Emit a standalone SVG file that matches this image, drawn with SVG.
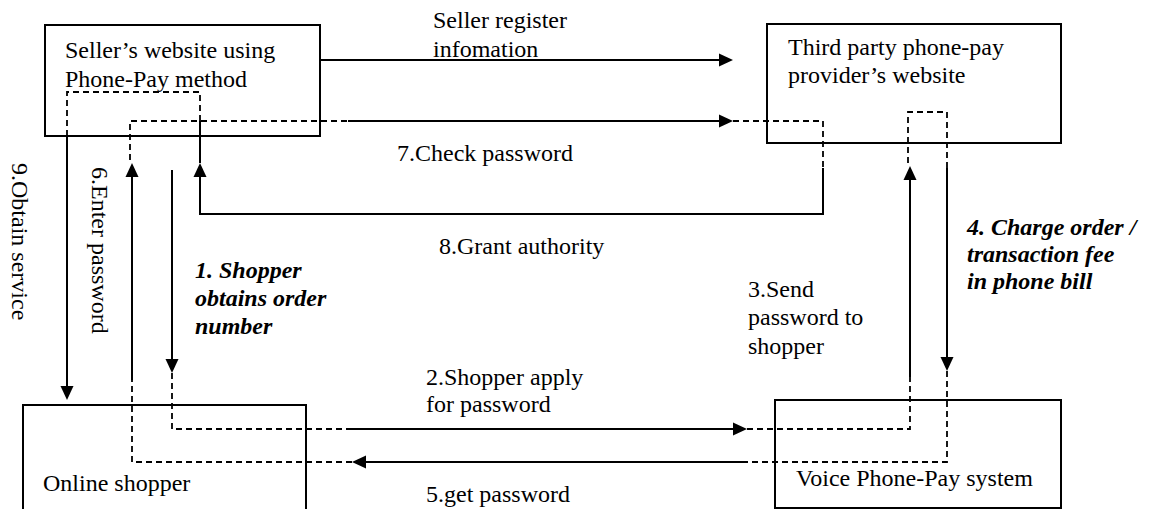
<svg xmlns="http://www.w3.org/2000/svg" xmlns:xlink="http://www.w3.org/1999/xlink" width="1152" height="509" viewBox="0 0 1152 509">
  <style>
    .box { fill: #ffffff; stroke: #000000; stroke-width: 2; }
    .txt { font-family: "Liberation Serif", "Times New Roman", serif; font-size: 24px; fill: #000000; }
    .bi { font-weight: bold; font-style: italic; }
    .solid { fill: none; stroke: #000000; stroke-width: 2; }
    .dash { fill: none; stroke: #000000; stroke-width: 1.8; stroke-dasharray: 6 4; }
  </style>
  <defs>
    <!-- filled arrowhead, tip at origin, pointing along +x -->
    <path id="ah" d="M0,0 L-14,-6.5 L-14,6.5 Z" fill="#000000"/>
  </defs>
  <rect width="1152" height="509" fill="#ffffff"/>

  <!-- nodes -->
  <g id="seller">
    <rect class="box" x="45" y="25" width="275" height="111"/>
    <text class="txt" x="65" y="58">Seller’s website using</text>
    <text class="txt" x="65" y="87">Phone-Pay method</text>
  </g>
  <g id="provider">
    <rect class="box" x="767" y="24" width="294" height="119"/>
    <text class="txt" x="788" y="55">Third party phone-pay</text>
    <text class="txt" x="788" y="83">provider’s website</text>
  </g>
  <g id="shopper">
    <rect class="box" x="23" y="405" width="283" height="110"/>
    <text class="txt" x="43" y="491">Online shopper</text>
  </g>
  <g id="voice">
    <rect class="box" x="775" y="400" width="286" height="108"/>
    <text class="txt" x="796" y="486">Voice Phone-Pay system</text>
  </g>

  <!-- connectors -->
  <g id="connectors">
    <!-- seller registers with provider -->
    <line class="solid" x1="320" y1="60" x2="722" y2="60"/>
    <use xlink:href="#ah" transform="translate(733,60)"/>

    <!-- 1. shopper obtains order number -->
    <line class="solid" x1="172" y1="170" x2="172" y2="362"/>
    <use xlink:href="#ah" transform="translate(172,373) rotate(90)"/>
    <polyline class="dash" points="172,373 172,429 350,429"/>

    <!-- 2. shopper applies for password -->
    <line class="solid" x1="350" y1="429" x2="736" y2="429"/>
    <use xlink:href="#ah" transform="translate(747,429)"/>
    <polyline class="dash" points="747,429 910,429 910,377"/>

    <!-- 3. send password to shopper -->
    <line class="solid" x1="910" y1="377" x2="910" y2="177"/>
    <use xlink:href="#ah" transform="translate(910,166) rotate(-90)"/>
    <polyline class="dash" points="908,163 908,112 947,112 947,168"/>

    <!-- 4. charge in phone bill -->
    <line class="solid" x1="947" y1="168" x2="947" y2="360"/>
    <use xlink:href="#ah" transform="translate(947,371) rotate(90)"/>
    <polyline class="dash" points="947,371 947,462 747,462"/>

    <!-- 5. get password -->
    <line class="solid" x1="747" y1="462" x2="363" y2="462"/>
    <use xlink:href="#ah" transform="translate(352,462) rotate(180)"/>
    <polyline class="dash" points="352,462 132,462 132,380"/>

    <!-- 6. enter password -->
    <line class="solid" x1="132" y1="380" x2="132" y2="174"/>
    <use xlink:href="#ah" transform="translate(132,163) rotate(-90)"/>
    <polyline class="dash" points="130,160 130,121 348,121"/>

    <!-- 7. check password -->
    <line class="solid" x1="348" y1="121" x2="722" y2="121"/>
    <use xlink:href="#ah" transform="translate(733,121)"/>
    <polyline class="dash" points="733,121 823,121 823,168"/>

    <!-- 8. grant authority -->
    <polyline class="solid" points="823,168 823,214 200,214 200,174"/>
    <use xlink:href="#ah" transform="translate(200,163) rotate(-90)"/>
    <line class="solid" x1="200" y1="163" x2="200" y2="121"/>
    <polyline class="dash" points="200,121 200,92 67,92 67,136"/>

    <!-- 9. obtain service -->
    <line class="solid" x1="67" y1="136" x2="67" y2="389"/>
    <use xlink:href="#ah" transform="translate(67,400) rotate(90)"/>
  </g>

  <!-- connector labels -->
  <g id="labels">
    <text class="txt" x="433" y="28">Seller register</text>
    <text class="txt" x="433" y="57">infomation</text>
    <text class="txt" x="397" y="161">7.Check password</text>
    <text class="txt" x="439" y="254">8.Grant authority</text>
    <text class="txt" x="748" y="297">3.Send</text>
    <text class="txt" x="748" y="325">password to</text>
    <text class="txt" x="748" y="354">shopper</text>
    <text class="txt bi" x="967" y="235">4. Charge order /</text>
    <text class="txt bi" x="967" y="262">transaction fee</text>
    <text class="txt bi" x="967" y="289">in phone bill</text>
    <text class="txt bi" x="195" y="278">1. Shopper</text>
    <text class="txt bi" x="195" y="306">obtains order</text>
    <text class="txt bi" x="195" y="334">number</text>
    <text class="txt" x="426" y="385">2.Shopper apply</text>
    <text class="txt" x="426" y="412">for password</text>
    <text class="txt" x="426" y="502">5.get password</text>
    <text class="txt" transform="translate(12,163) rotate(90)">9.Obtain service</text>
    <text class="txt" transform="translate(92,167) rotate(90)">6.Enter password</text>
  </g>
</svg>
